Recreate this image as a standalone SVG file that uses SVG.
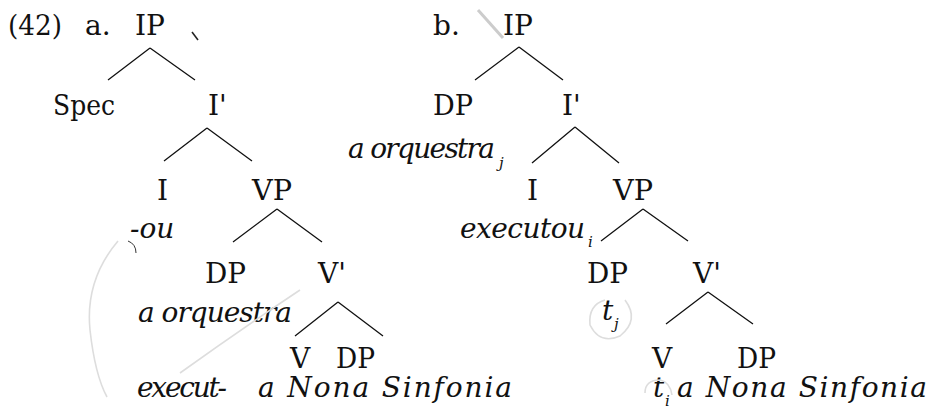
<svg xmlns="http://www.w3.org/2000/svg" width="928" height="414" viewBox="0 0 928 414">
<style>
text{font-family:"DejaVu Serif",serif;font-size:28px;fill:#111}
.it{font-style:italic}
.sub{font-style:italic;font-size:15px}
.edge{stroke:#111;stroke-width:1.3;fill:none}
.pencil{stroke:#ddd;stroke-width:1.6;fill:none}
</style>
<rect width="928" height="414" fill="#fff"/>
<g id="labels">
<text x="8" y="35" textLength="54" lengthAdjust="spacingAndGlyphs">(42)</text>
<text x="85" y="35">a.</text>
<text x="433" y="35">b.</text>
</g>
<g id="connectors">
<path class="edge" d="M150 48 L108 80 M150 48 L195 80"/>
<path class="edge" d="M207 128 L164 161 M207 128 L252 161"/>
<path class="edge" d="M277 209 L233 242 M277 209 L322 242"/>
<path class="edge" d="M338 302 L295 336 M338 302 L383 336"/>
<path class="edge" d="M519 47 L475 80 M519 47 L563 80"/>
<path class="edge" d="M575 127 L532 163 M575 127 L619 163"/>
<path class="edge" d="M643 209 L601 241 M643 209 L688 241"/>
<path class="edge" d="M708 292 L666 324 M708 292 L753 324"/>
</g>
<g id="a-IP"><text x="135" y="35">IP</text></g>
<g id="a-Spec"><text x="53" y="115" textLength="62" lengthAdjust="spacingAndGlyphs">Spec</text></g>
<g id="a-Ibar"><text x="208" y="115">I'</text></g>
<g id="a-I"><text x="157" y="200">I</text><text class="it" x="130" y="238">-ou</text></g>
<g id="a-VP"><text x="252" y="200" textLength="40" lengthAdjust="spacingAndGlyphs">VP</text></g>
<g id="a-DP"><text x="205" y="283" textLength="41" lengthAdjust="spacingAndGlyphs">DP</text><text class="it" x="138" y="322" textLength="154" lengthAdjust="spacing">a orquestra</text></g>
<g id="a-Vbar"><text x="318" y="283">V'</text></g>
<g id="a-V"><text x="290" y="368">V</text><text class="it" x="137" y="397" textLength="90" lengthAdjust="spacing">execut-</text></g>
<g id="a-DP2"><text x="336" y="368" textLength="39" lengthAdjust="spacingAndGlyphs">DP</text><text class="it" x="258" y="397" textLength="254" lengthAdjust="spacing">a Nona Sinfonia</text></g>
<g id="b-IP"><text x="503" y="35">IP</text></g>
<g id="b-DP"><text x="433" y="115" textLength="40" lengthAdjust="spacingAndGlyphs">DP</text><text class="it" x="348" y="158" textLength="147" lengthAdjust="spacing">a orquestra</text><text class="sub" x="499" y="168">j</text></g>
<g id="b-Ibar"><text x="562" y="115">I'</text></g>
<g id="b-I"><text x="527" y="200">I</text><text class="it" x="460" y="238" textLength="125" lengthAdjust="spacing">executou</text><text class="sub" x="588" y="247">i</text></g>
<g id="b-VP"><text x="613" y="200" textLength="40" lengthAdjust="spacingAndGlyphs">VP</text></g>
<g id="b-DP2"><text x="587" y="283" textLength="41" lengthAdjust="spacingAndGlyphs">DP</text><text class="it" x="602" y="320">t</text><text class="sub" x="614" y="329">j</text></g>
<g id="b-Vbar"><text x="693" y="283">V'</text></g>
<g id="b-V"><text x="652" y="368">V</text><text class="it" x="653" y="397">t</text><text class="sub" x="665" y="406">i</text></g>
<g id="b-DP3"><text x="737" y="368" textLength="39" lengthAdjust="spacingAndGlyphs">DP</text><text class="it" x="677" y="397" textLength="250" lengthAdjust="spacing">a Nona Sinfonia</text></g>
<g id="marks">
<path d="M192 32 L198 40" stroke="#222" stroke-width="1.5"/>
<path d="M478 10 L503 38" stroke="#ccc" stroke-width="3"/>
<path d="M128 241 Q136 244 136 253" stroke="#333" stroke-width="1" fill="none"/>
<path class="pencil" d="M118 241 Q85 280 90 330 Q95 375 107 397"/>
<path class="pencil" d="M180 373 Q240 330 300 290"/>
<path class="pencil" d="M625 300 Q640 320 620 336 Q600 345 590 325 Q588 305 605 300"/>
<path class="pencil" d="M645 393 Q645 380 660 380 Q670 382 672 395"/>
</g>
</svg>
